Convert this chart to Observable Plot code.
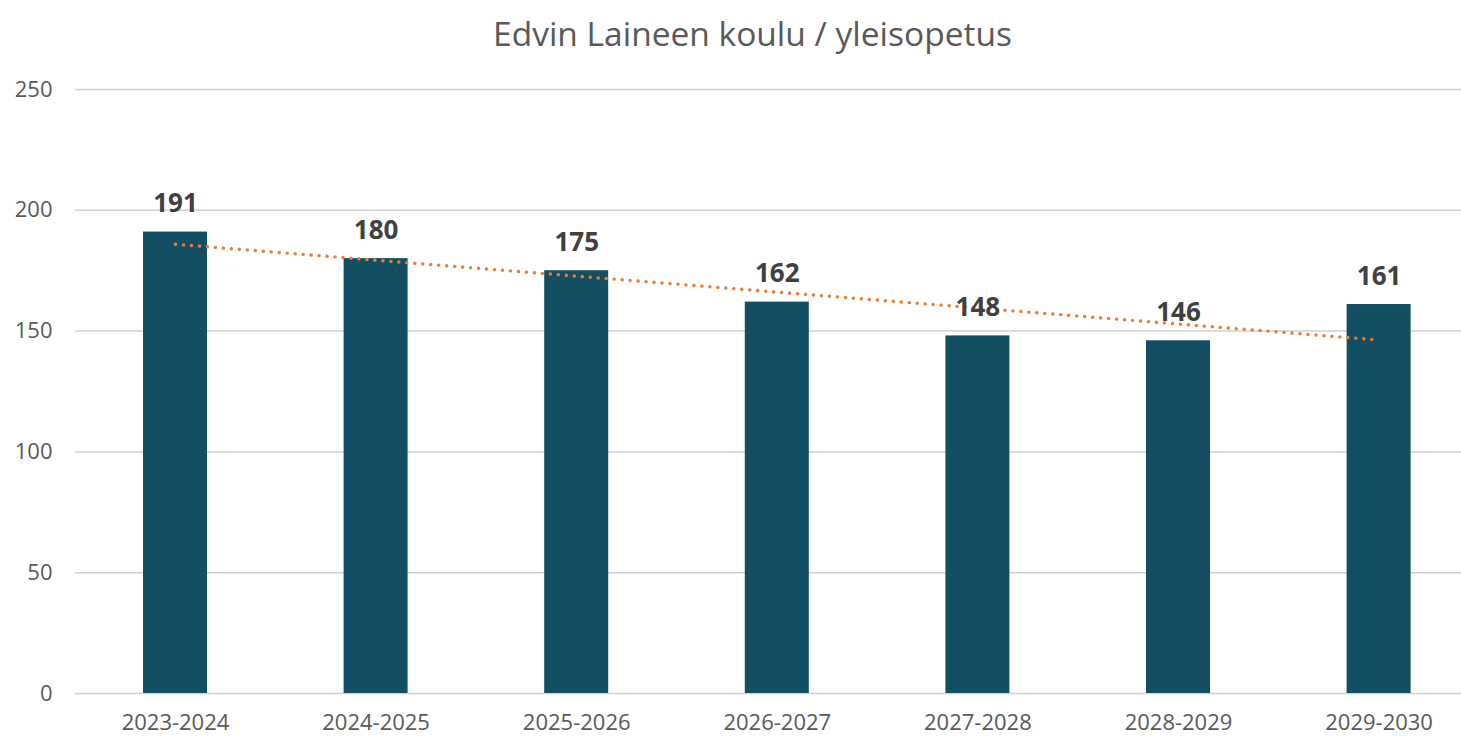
<!DOCTYPE html>
<html>
<head>
<meta charset="utf-8">
<script src="https://cdn.jsdelivr.net/npm/d3@7"></script>
<script src="https://cdn.jsdelivr.net/npm/@observablehq/plot@0.6"></script>
<style>
  html, body { margin: 0; padding: 0; background: #fff; width: 1461px; height: 736px; overflow: hidden; }
  #title { height: 55px; line-height: 66px; overflow: visible; text-align: center; font-family: "Open Sans", sans-serif; font-size: 33.5px; color: #595959; padding-left: 44px; box-sizing: border-box; white-space: nowrap; }
  #chart svg { display: block; }
</style>
</head>
<body>
<div id="title">Edvin Laineen koulu / yleisopetus</div>
<div id="chart"></div>
<script>
const years = ["2023-2024", "2024-2025", "2025-2026", "2026-2027", "2027-2028", "2028-2029", "2029-2030"];
const values = [191, 180, 175, 162, 148, 146, 161];
const yTicks = [0, 50, 100, 150, 200, 250];

const data = years.map((y, i) => ({year: y, value: values[i], i: i + 1}));

// Linear trend (least squares) computed from the data, as in the spreadsheet trendline
const mx = d3.mean(data, d => d.i), my = d3.mean(data, d => d.value);
const slope = d3.sum(data, d => (d.i - mx) * (d.value - my)) / d3.sum(data, d => (d.i - mx) ** 2);
const trend = data.map(d => ({year: d.year, value: my + slope * (d.i - mx)}));

const chart = Plot.plot({
  width: 1461,
  height: 681,
  marginLeft: 75,
  marginRight: 0,
  marginTop: 34,
  marginBottom: 43,
  style: {fontFamily: "Open Sans, sans-serif", background: "transparent"},
  x: {domain: years, range: [74.7, 1478.9], paddingInner: 0.681, paddingOuter: 0.3405, round: false, label: null},
  y: {domain: [0, 250], label: null},
  marks: [
    Plot.ruleY(yTicks, {stroke: "#d0d0d0", strokeWidth: 1.5}),
    Plot.axisY({ticks: yTicks, tickSize: 0, tickPadding: 23, fontSize: 22, fill: "#595959", label: null}),
    Plot.axisX({tickSize: 0, tickPadding: 21, fontSize: 22, fill: "#595959", label: null}),
    Plot.barY(data, {x: "year", y: "value", fill: "#134f63"}),
    Plot.line(trend, {x: "year", y: "value", stroke: "#ed7d31", strokeWidth: 3.4, strokeDasharray: "0.1 7.9", strokeLinecap: "round"}),
    Plot.text(data, {x: "year", y: "value", text: d => String(d.value), dy: -28, fontSize: 26, fontWeight: "bold", fill: "#404040"})
  ]
});
document.getElementById("chart").appendChild(chart);
</script>
</body>
</html>
